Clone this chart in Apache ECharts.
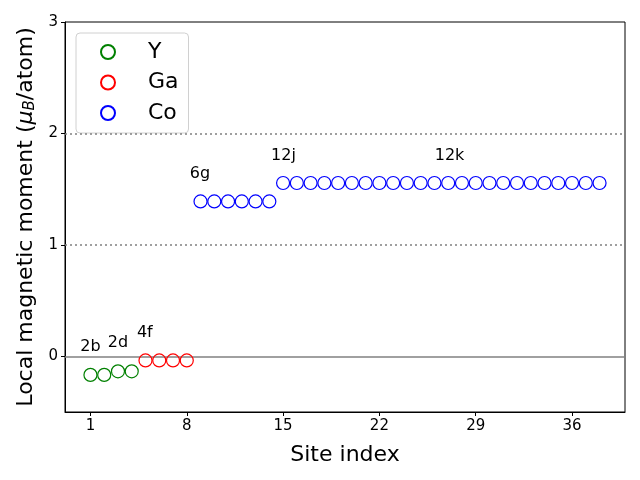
<!DOCTYPE html>
<html><head><meta charset="utf-8">
<script src="https://cdn.jsdelivr.net/npm/echarts@6/dist/echarts.min.js"></script>
<style>html,body{margin:0;padding:0;background:#fff}#c{width:640px;height:480px}</style>
</head><body><div id="c"></div>
<script>
const ySites = [1, 2, 3, 4];
const yMoments = [-0.167, -0.167, -0.135, -0.135];
const gaSites = [5, 6, 7, 8];
const gaMoments = [-0.037, -0.037, -0.037, -0.037];
const coSites = [9,10,11,12,13,14,15,16,17,18,19,20,21,22,23,24,25,26,27,28,29,30,31,32,33,34,35,36,37,38];
const coMoments = [1.39,1.39,1.39,1.39,1.39,1.39,
  1.555,1.555,1.555,1.555,1.555,1.555,1.555,1.555,1.555,1.555,1.555,1.555,
  1.555,1.555,1.555,1.555,1.555,1.555,1.555,1.555,1.555,1.555,1.555,1.555];
const wyckoffNames = ['2b', '2d', '4f', '6g', '12j', '12k'];
const wyckoffX = [1.0, 3.0, 4.95, 8.96, 15.03, 27.1];
const wyckoffY = [0.087, 0.12, 0.21, 1.64, 1.80, 1.80];
const xTicks = [1, 8, 15, 22, 29, 36];
const yTicks = [0, 1, 2, 3];

const F = 'DejaVu Sans';
const zip = (a, b) => a.map((v, i) => [v, b[i]]);
const mk = (name, xs, ys, col) => ({
  name, type: 'scatter', data: zip(xs, ys), symbol: 'circle', symbolSize: 13,
  itemStyle: { color: 'rgba(0,0,0,0)', borderColor: col, borderWidth: 1.2, opacity: 1 },
  emphasis: { disabled: true }, z: 5
});
const chart = echarts.init(document.getElementById('c'), null, { renderer: 'canvas' });
chart.setOption({
  animation: false,
  backgroundColor: '#fff',
  grid: { left: 65, right: 15, top: 22, bottom: 68, show: true, borderColor: '#000', borderWidth: 1, backgroundColor: 'transparent' },
  legend: {
    data: ['Y', 'Ga', 'Co'], orient: 'vertical', left: 76, top: 33,
    padding: [8, 10, 9, 24], itemGap: 8.5, itemWidth: 14, itemHeight: 14,
    borderColor: '#d0d0d0', borderWidth: 1, borderRadius: 4, backgroundColor: 'rgba(255,255,255,0.8)',
    textStyle: { fontFamily: F, fontSize: 22, lineHeight: 22, color: '#000', padding: [0, 0, 0, 28] }
  },
  xAxis: {
    type: 'value', min: -0.85, max: 39.85,
    name: 'Site index', nameLocation: 'middle', nameGap: 32,
    nameTextStyle: { fontFamily: F, fontSize: 22, color: '#000' },
    axisLine: { show: true, onZero: false, lineStyle: { color: '#000' } },
    axisTick: { show: true, length: 4, lineStyle: { color: '#000' }, customValues: xTicks },
    axisLabel: { customValues: xTicks, fontFamily: F, fontSize: 15, color: '#000', margin: 7 },
    splitLine: { show: false }
  },
  yAxis: {
    type: 'value', min: -0.5, max: 3,
    name: 'Local magnetic moment ({i|μ}{s|B}/atom)', nameLocation: 'middle', nameGap: 27,
    nameTextStyle: { fontFamily: F, fontSize: 22, color: '#000',
      rich: { i: { fontFamily: F, fontSize: 22, fontStyle: 'italic', color: '#000' },
              s: { fontFamily: F, fontSize: 15, fontStyle: 'italic', color: '#000', verticalAlign: 'bottom', padding: [8, 0, 0, 0] } } },
    axisLine: { show: true, onZero: false, lineStyle: { color: '#000' } },
    axisTick: { show: true, length: 4, lineStyle: { color: '#000' }, customValues: yTicks },
    axisLabel: { customValues: yTicks, fontFamily: F, fontSize: 15, color: '#000', margin: 7 },
    splitLine: { show: false }
  },
  series: [
    mk('Y', ySites, yMoments, '#008000'),
    mk('Ga', gaSites, gaMoments, '#ff0000'),
    mk('Co', coSites, coMoments, '#0000ff'),
    {
      type: 'scatter', name: 'labels', symbolSize: 0, silent: true, z: 6,
      itemStyle: { opacity: 1 },
      data: wyckoffNames.map((n, i) => ({ value: [wyckoffX[i], wyckoffY[i]], name: n })),
      label: { show: true, position: 'inside', formatter: p => p.name, fontFamily: F, fontSize: 16, color: '#000' },
      markLine: {
        silent: true, symbol: 'none', label: { show: false },
        data: [
          { yAxis: 0, lineStyle: { color: '#808080', type: 'solid', width: 1.5 } },
          { yAxis: 1, lineStyle: { color: '#808080', type: [2, 3], width: 1.5 } },
          { yAxis: 2, lineStyle: { color: '#808080', type: [2, 3], width: 1.5 } }
        ]
      }
    }
  ]
});
</script></body></html>
